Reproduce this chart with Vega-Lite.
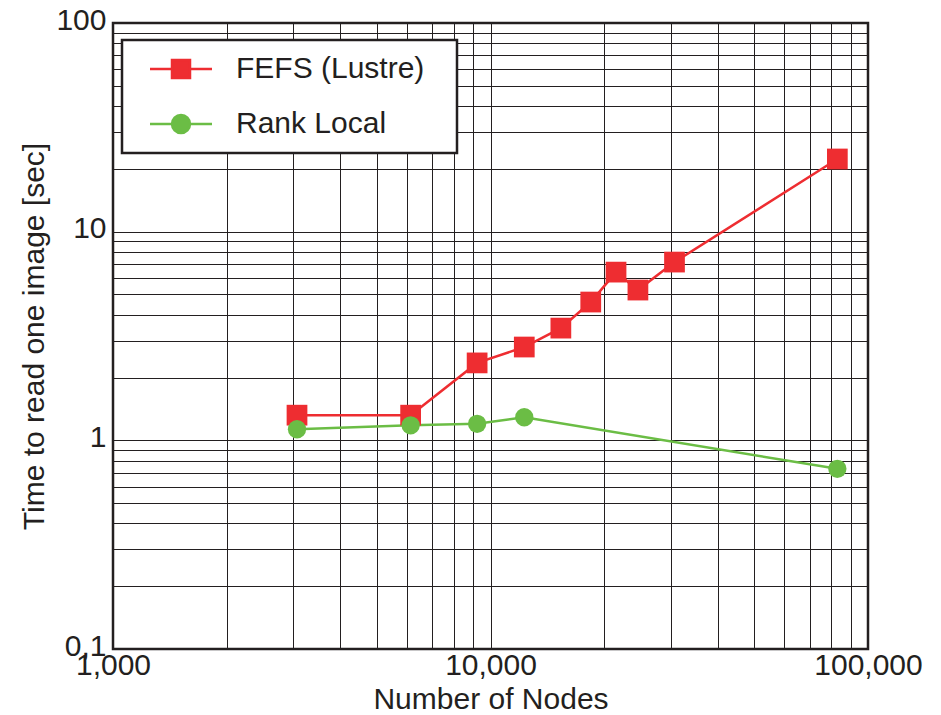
{
  "$schema": "https://vega.github.io/schema/vega-lite/v6.json",
  "width": 755,
  "height": 626,
  "autosize": "none",
  "padding": {"left": 113, "top": 23, "right": 73, "bottom": 66},
  "background": "white",
  "data": {
    "values": [
      {"series": "FEFS (Lustre)", "nodes": 3072, "time": 1.32},
      {"series": "FEFS (Lustre)", "nodes": 6144, "time": 1.32},
      {"series": "FEFS (Lustre)", "nodes": 9216, "time": 2.35},
      {"series": "FEFS (Lustre)", "nodes": 12288, "time": 2.8},
      {"series": "FEFS (Lustre)", "nodes": 15360, "time": 3.45},
      {"series": "FEFS (Lustre)", "nodes": 18432, "time": 4.6},
      {"series": "FEFS (Lustre)", "nodes": 21504, "time": 6.4},
      {"series": "FEFS (Lustre)", "nodes": 24576, "time": 5.25},
      {"series": "FEFS (Lustre)", "nodes": 30720, "time": 7.15},
      {"series": "FEFS (Lustre)", "nodes": 82944, "time": 22.3},
      {"series": "Rank Local", "nodes": 3072, "time": 1.13},
      {"series": "Rank Local", "nodes": 6144, "time": 1.18},
      {"series": "Rank Local", "nodes": 9216, "time": 1.2},
      {"series": "Rank Local", "nodes": 12288, "time": 1.29},
      {"series": "Rank Local", "nodes": 82944, "time": 0.73}
    ]
  },
  "encoding": {
    "x": {
      "field": "nodes",
      "type": "quantitative",
      "title": "Number of Nodes",
      "scale": {"type": "log", "domain": [1000, 100000], "nice": false},
      "axis": {
        "values": [1000, 2000, 3000, 4000, 5000, 6000, 7000, 8000, 9000, 10000, 20000, 30000, 40000, 50000, 60000, 70000, 80000, 90000, 100000],
        "labelExpr": "datum.value == 1000 ? '1,000' : datum.value == 10000 ? '10,000' : datum.value == 100000 ? '100,000' : ''",
        "labelPadding": 1,
        "titlePadding": 4
      }
    },
    "y": {
      "field": "time",
      "type": "quantitative",
      "title": "Time to read one image [sec]",
      "scale": {"type": "log", "domain": [0.1, 100], "nice": false},
      "axis": {
        "values": [0.1, 0.2, 0.3, 0.4, 0.5, 0.6, 0.7, 0.8, 0.9, 1, 2, 3, 4, 5, 6, 7, 8, 9, 10, 20, 30, 40, 50, 60, 70, 80, 90, 100],
        "labelExpr": "datum.value == 100 ? '100' : datum.value == 10 ? '10' : datum.value == 1 ? '1' : datum.value == 0.1 ? '0,1' : ''",
        "labelPadding": 7,
        "labelOffset": -3,
        "titlePadding": 6
      }
    },
    "color": {
      "field": "series",
      "type": "nominal",
      "scale": {"domain": ["FEFS (Lustre)", "Rank Local"], "range": ["#ee2d31", "#6bbd45"]},
      "legend": {
        "orient": "none",
        "legendX": 9,
        "legendY": 17,
        "title": null,
        "labelFont": "Liberation Sans",
        "labelFontSize": 30,
        "labelColor": "#231f20",
        "labelLimit": 500,
        "symbolSize": 400,
        "symbolOffset": 30,
        "labelOffset": 40,
        "padding": 14,
        "rowPadding": 25,
        "strokeColor": "#231f20",
        "fillColor": "white",
        "symbolStrokeWidth": 2.5,
        "encode": {
          "symbols": {
            "update": {
              "shape": {"signal": "datum.value === 'FEFS (Lustre)' ? 'M-3.1,0H-0.9M0.9,0H3.1M-0.9,-0.9H0.9V0.9H-0.9ZM25.7,0' : 'M-3.1,0H-0.9M0.9,0H3.1M-0.9,0A0.9,0.9 0 1,1 0.9,0A0.9,0.9 0 1,1 -0.9,0ZM25.7,0'"},
              "fill": {"signal": "datum.value === 'FEFS (Lustre)' ? '#ee2d31' : '#6bbd45'"},
              "stroke": {"signal": "datum.value === 'FEFS (Lustre)' ? '#ee2d31' : '#6bbd45'"},
              "strokeWidth": {"value": 2.5},
              "opacity": {"value": 1},
              "fillOpacity": {"value": 1},
              "size": {"value": 400}
            }
          },
          "legend": {"update": {"strokeWidth": {"value": 2.5}}}
        }
      }
    }
  },
  "layer": [
    {
      "mark": {"type": "line", "strokeWidth": 2.5}
    },
    {
      "mark": {"type": "point", "filled": true, "opacity": 1},
      "encoding": {
        "shape": {"field": "series", "type": "nominal", "scale": {"range": ["square", "circle"]}, "legend": null},
        "size": {"field": "series", "type": "nominal", "scale": {"range": [430, 336]}, "legend": null}
      }
    }
  ],
  "config": {
    "view": {"stroke": "#231f20", "strokeWidth": 2.5},
    "axis": {
      "labelFont": "Liberation Sans",
      "labelFontSize": 30,
      "labelColor": "#231f20",
      "titleFont": "Liberation Sans",
      "titleFontSize": 30,
      "titleFontWeight": "normal",
      "titleColor": "#231f20",
      "grid": true,
      "gridColor": "#231f20",
      "gridWidth": 1,
      "gridOpacity": 1,
      "ticks": false,
      "domain": false,
      "labelOverlap": false,
      "labelFlush": false
    }
  }
}
